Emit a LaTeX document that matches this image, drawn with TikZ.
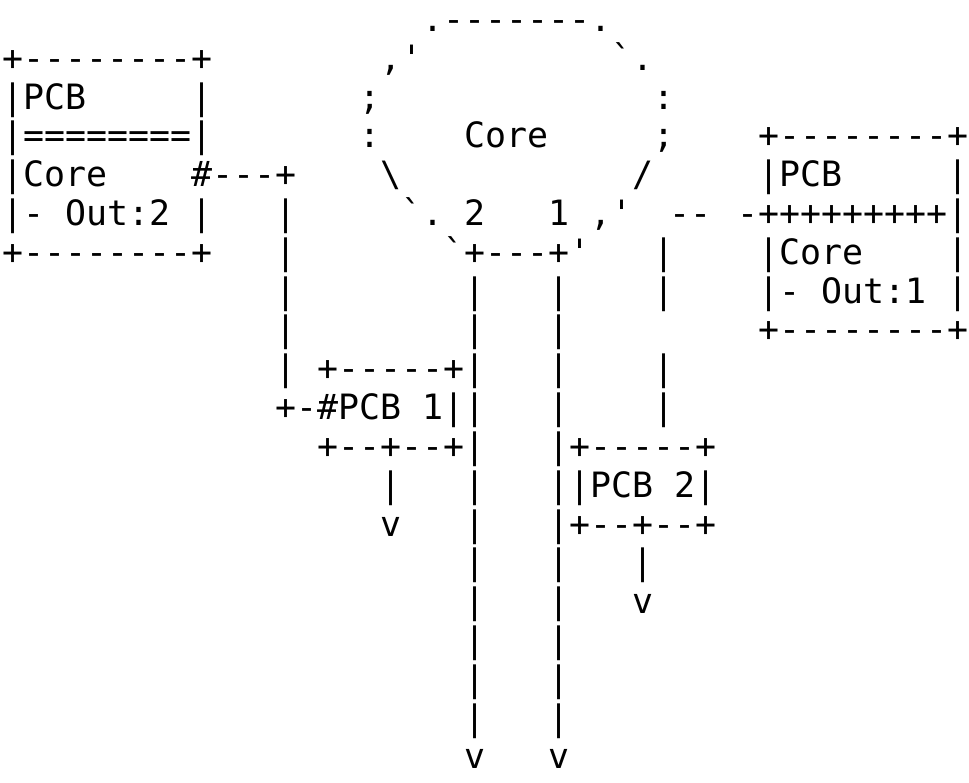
\documentclass[tikz,border=0pt]{standalone}
\usepackage{fontspec}
\setmonofont{DejaVu Sans Mono}
\newcommand\bk{\hphantom{0}}
\newcommand\A[4]{\node[asc] (#1) at ({2.8+21*#2},{-31.6-38.8*#3}) {#4};}
\tikzset{asc/.style={anchor=base west, inner sep=0pt, outer sep=0pt,
  font=\ttfamily\fontsize{34.9}{40}\selectfont, text=black}}
\begin{document}
\begin{tikzpicture}[x=1pt,y=1pt]
\path[use as bounding box, fill=white] (0,0) rectangle (969,-783);
% row 0
\A{r0a}{20}{0}{.-------.}
% row 1
\A{r1a}{0}{1}{+--------+}
\A{r1b}{18}{1}{,'}
\A{r1c}{29}{1}{`.}
% row 2
\A{r2a}{0}{2}{|PCB\bk\bk\bk\bk\bk|}
\A{r2b}{17}{2}{;}
\A{r2c}{31}{2}{:}
% row 3
\A{r3a}{0}{3}{|========|}
\A{r3b}{17}{3}{:}
\A{r3c}{22}{3}{Core}
\A{r3d}{31}{3}{;}
\A{r3e}{36}{3}{+--------+}
% row 4
\A{r4a}{0}{4}{|Core\bk\bk\bk\bk\#---+}
\A{r4b}{18}{4}{\textbackslash}
\A{r4c}{30}{4}{/}
\A{r4d}{36}{4}{|PCB\bk\bk\bk\bk\bk|}
% row 5
\A{r5a}{0}{5}{|-\bk Out:2\bk|}
\A{r5b}{13}{5}{|}
\A{r5c}{19}{5}{`.\bk 2\bk\bk\bk 1\bk,'}
\A{r5d}{31.75}{5}{--}
\A{r5e}{35}{5}{-+++++++++|}
% row 6
\A{r6a}{0}{6}{+--------+}
\A{r6b}{13}{6}{|}
\A{r6c}{21}{6}{`+---+'}
\A{r6d}{31}{6}{|}
\A{r6e}{36}{6}{|Core\bk\bk\bk\bk|}
% row 7
\A{r7a}{13}{7}{|}
\A{r7b}{22}{7}{|}
\A{r7c}{26}{7}{|}
\A{r7d}{31}{7}{|}
\A{r7e}{36}{7}{|-\bk Out:1\bk|}
% row 8
\A{r8a}{13}{8}{|}
\A{r8b}{22}{8}{|}
\A{r8c}{26}{8}{|}
\A{r8e}{36}{8}{+--------+}
% row 9
\A{r9a}{13}{9}{|}
\A{r9b}{15}{9}{+-----+|}
\A{r9c}{26}{9}{|}
\A{r9d}{31}{9}{|}
% row 10
\A{r10a}{13}{10}{+-\#PCB\bk 1||}
\A{r10c}{26}{10}{|}
\A{r10d}{31}{10}{|}
% row 11
\A{r11a}{15}{11}{+--+--+|}
\A{r11b}{26}{11}{|+-----+}
% row 12
\A{r12a}{18}{12}{|}
\A{r12b}{22}{12}{|}
\A{r12c}{26}{12}{||PCB\bk 2|}
% row 13
\A{r13a}{18}{13}{v}
\A{r13b}{22}{13}{|}
\A{r13c}{26}{13}{|+--+--+}
% row 14
\A{r14a}{22}{14}{|}
\A{r14b}{26}{14}{|}
\A{r14c}{30}{14}{|}
% row 15
\A{r15a}{22}{15}{|}
\A{r15b}{26}{15}{|}
\A{r15c}{30}{15}{v}
% rows 16-18
\A{r16a}{22}{16}{|}
\A{r16b}{26}{16}{|}
\A{r17a}{22}{17}{|}
\A{r17b}{26}{17}{|}
\A{r18a}{22}{18}{|}
\A{r18b}{26}{18}{|}
% row 19
\A{r19a}{22}{19}{v}
\A{r19b}{26}{19}{v}
\end{tikzpicture}
\end{document}
